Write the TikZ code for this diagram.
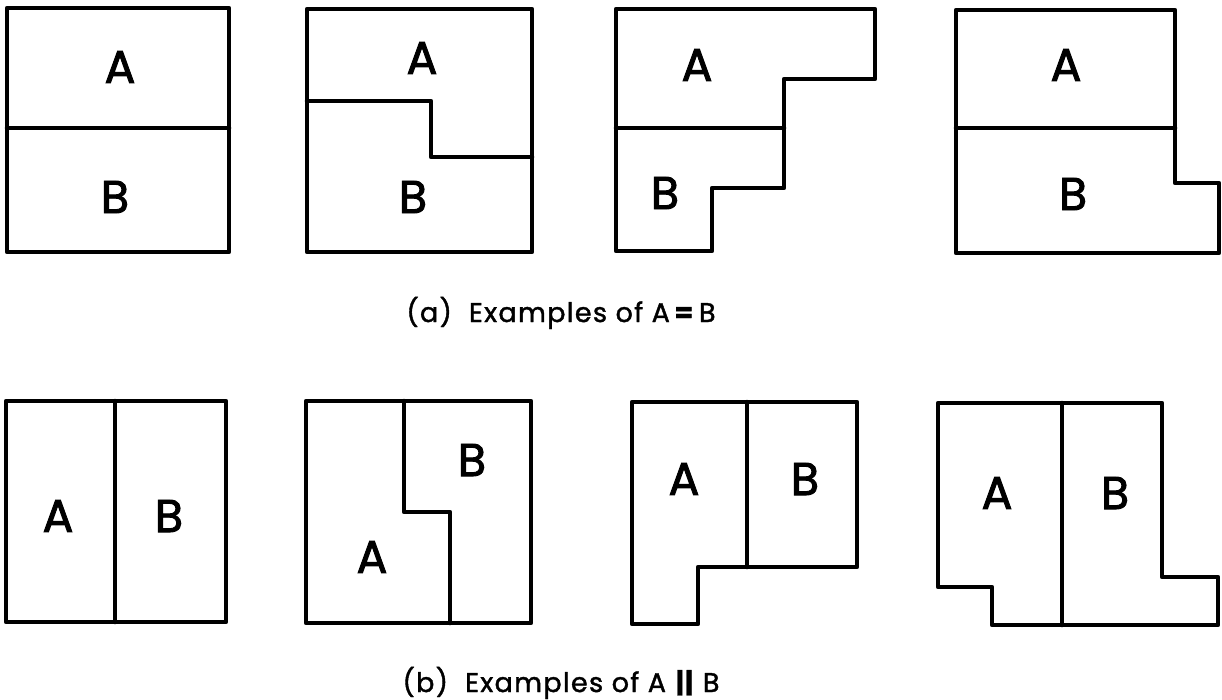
\documentclass[tikz,border=0pt]{standalone}
\usepackage{fontspec}
\setmainfont{Poppins}
\newfontfamily\lblfont{Poppins}[FakeBold=2]
\newfontfamily\capfont{Poppins}[FakeBold=1.5,LetterSpace=5]
\begin{document}
\begin{tikzpicture}[x=1pt,y=-1pt,
  wall/.style={line width=4.5pt,line join=round,line cap=round},
  lbl/.style={font=\lblfont\fontsize{46}{48}\selectfont,inner sep=0pt},
  captxt/.style={font=\capfont\fontsize{27}{30}\selectfont,inner sep=0pt,anchor=base}]
\useasboundingbox (0,0) rectangle (1222,699);
% (a) row
\draw[wall] (7,8) rectangle (229,252);
\draw[wall] (7,128) -- (229,128);
\node[lbl] (a1A) at (120,67) {A};
\node[lbl] (a1B) at (115,197) {B};

\draw[wall] (307,9) rectangle (532,252);
\draw[wall] (307,101) -- (431,101) -- (431,157) -- (532,157);
\node[lbl] (a2A) at (422,58) {A};
\node[lbl] (a2B) at (413,197) {B};

\draw[wall] (616,9) -- (875,9) -- (875,79) -- (784,79) -- (784,188) -- (712,188) -- (712,251) -- (616,251) -- cycle;
\draw[wall] (616,128) -- (784,128);
\node[lbl] (a3A) at (697,65) {A};
\node[lbl] (a3B) at (665,193) {B};

\draw[wall] (956,10) -- (1175,10) -- (1175,183) -- (1219,183) -- (1219,253) -- (956,253) -- cycle;
\draw[wall] (956,128) -- (1175,128);
\node[lbl] (a4A) at (1066,65) {A};
\node[lbl] (a4B) at (1073,194) {B};

\node[captxt] (capa) at (561,322) {(a)\ \ Examples of A\,\textbf{=}\,B};

% (b) row
\draw[wall] (6,401) rectangle (226,622);
\draw[wall] (115,401) -- (115,622);
\node[lbl] (b1A) at (58,516) {A};
\node[lbl] (b1B) at (169,516) {B};

\draw[wall] (306,401) rectangle (531,623);
\draw[wall] (404,401) -- (404,512) -- (450,512) -- (450,623);
\node[lbl] (b2B) at (472,460) {B};
\node[lbl] (b2A) at (372,557) {A};

\draw[wall] (632,402) -- (857,402) -- (857,567) -- (698,567) -- (698,624) -- (632,624) -- cycle;
\draw[wall] (747,402) -- (747,567);
\node[lbl] (b3A) at (684,479) {A};
\node[lbl] (b3B) at (805,479) {B};

\draw[wall] (938,403) -- (1162,403) -- (1162,577) -- (1218,577) -- (1218,625) -- (992,625) -- (992,587) -- (938,587) -- cycle;
\draw[wall] (1062,403) -- (1062,625);
\node[lbl] (b4A) at (997,493) {A};
\node[lbl] (b4B) at (1115,493) {B};

\node[captxt] (capb) at (561,692) {(b)\ \ Examples of A \textbf{||} B};
\end{tikzpicture}
\end{document}
